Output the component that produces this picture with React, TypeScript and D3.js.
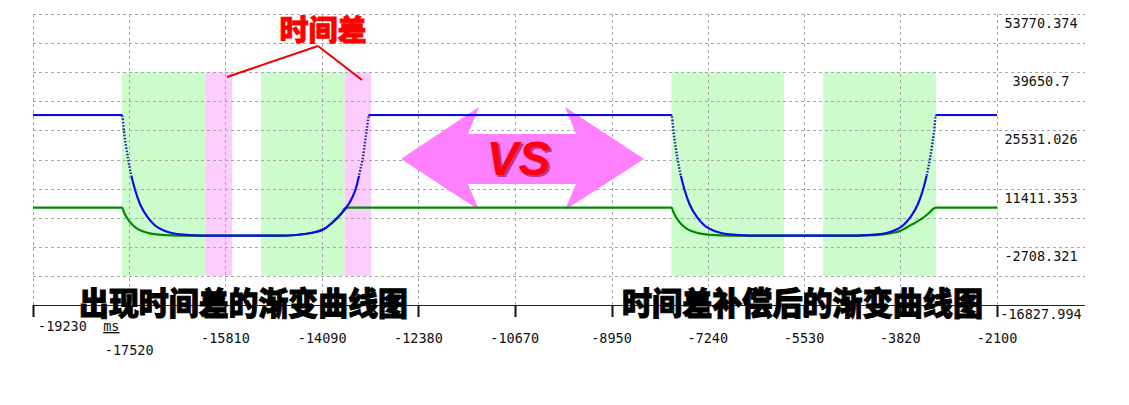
import React from 'react';
import * as d3 from 'd3';

const W = 1129;
const H = 405;

const xTicks = [-19230, -17520, -15810, -14090, -12380, -10670, -8950, -7240, -5530, -3820, -2100];
const xTickLabels = ['-19230', '-17520', '-15810', '-14090', '-12380', '-10670', '-8950', '-7240', '-5530', '-3820', '-2100'];
const yTicks = [53770.374, 39650.7, 25531.026, 11411.353, -2708.321, -16827.994];
const yTickLabels = ['53770.374', '39650.7', '25531.026', '11411.353', '-2708.321', '-16827.994'];
const xUnit = 'ms';

const greenBands = [[-17650, -16170], [-15180, -13690], [-7885, -5885], [-5190, -3185]];
const pinkBands = [[-16170, -15690], [-13690, -13225]];
const bandTop = 39650.7;
const bandBottom = -9768.3;

const blueT = [-19230, -17648, -17613, -17577, -17542, -17489, -17417, -17329, -17187, -17062, -16884, -16618, -16263, -15900,
  -14823, -14556, -14290, -14059, -13899, -13757, -13668, -13579, -13490, -13419, -13366, -13330, -13295, -13259,
  -7884, -7849, -7813, -7778, -7725, -7653, -7565, -7423, -7298, -7120, -6854, -6499,
  -4570, -4214, -3948, -3770, -3646, -3504, -3415, -3344, -3290, -3255, -3219, -3184, -2100];
const blueV = [29270, 29270, 25200, 21750, 18740, 14980, 11120, 7680, 4350, 2460, 1130, 300, 20, 0,
  0, 155, 641, 1611, 3309, 5250, 6706, 8646, 11558, 15682, 19078, 22717, 26114, 29270,
  29270, 25200, 21750, 18740, 14980, 11120, 7680, 4350, 2460, 1130, 300, 20,
  20, 300, 1130, 2460, 4350, 7680, 11120, 14980, 18740, 21750, 25200, 29270, 29270];

const greenT = [-19230, -17648, -17613, -17560, -17489, -17400, -17293, -17151, -16938, -16618, -16200,
  -14823, -14556, -14290, -14059, -13899, -13757, -13668,
  -7884, -7849, -7796, -7725, -7636, -7529, -7387, -7174, -6854, -6400,
  -4623, -4357, -4125, -3966, -3823, -3735, -3646, -3575, -3504, -3432, -3361, -3290, -3237, -3184, -2100];
const greenV = [6800, 6800, 5690, 4330, 2990, 1900, 1130, 540, 180, 25, 0,
  0, 155, 641, 1611, 3309, 5250, 6800,
  6800, 5690, 4330, 2990, 1900, 1130, 540, 180, 25, 0,
  0, 107, 325, 641, 1126, 1732, 2460, 2945, 3552, 4158, 4886, 5735, 6463, 6800, 6800];

const leftTitle = '出现时间差的渐变曲线图';
const rightTitle = '时间差补偿后的渐变曲线图';
const diffLabel = '时间差';
const vsLabel = 'VS';

// annotation anchors in data coordinates
const diffApex = [-14166, 46007];
const diffEnds = [[-15783, 38486], [-13384, 37758]];
const diffTextPos = [-14077, 41];
const arrowCenter = [-10532, 18593];

export default function App() {
  const x = d3.scaleLinear().domain([xTicks[0], xTicks[xTicks.length - 1]]).range([33, 997]);
  const y = d3.scaleLinear().domain([yTicks[yTicks.length - 1], yTicks[0]]).range([305, 14]);

  const yGrid: number[] = [];
  yTicks.forEach((v, i) => {
    yGrid.push(v);
    if (i < yTicks.length - 1) yGrid.push((v + yTicks[i + 1]) / 2);
  });

  const line = d3.line<number>()
    .x((_, i) => x(blueT[i]))
    .y((v) => y(v))
    .curve(d3.curveMonotoneX);
  const gline = d3.line<number>()
    .x((_, i) => x(greenT[i]))
    .y((v) => y(v))
    .curve(d3.curveMonotoneX);
  const blueD = line(blueV) || '';
  const greenD = gline(greenV) || '';

  const dotTop = y(blueV[0]) + 1.3;
  const dotBottom = y(14500);

  const ax = x(arrowCenter[0]);
  const ay = y(arrowCenter[1]);
  const arrowPts = [[-121.5, 0], [-43.5, -52], [-54.5, -25], [53.5, -25], [42.5, -52], [121.5, 0], [42.5, 51], [53.5, 25], [-54.5, 25], [-43.5, 51]]
    .map(([dx, dy]) => `${ax + dx},${ay + dy}`).join(' ');

  const mono = "'DejaVu Sans Mono', monospace";
  const cjk = "'Noto Sans CJK SC', 'Noto Sans CJK JP', sans-serif";

  return (
    <svg width={W} height={H} style={{ position: 'absolute', left: 0, top: 0, background: '#fff' }}>
      <defs>
        <clipPath id="solidClip">
          <rect x={0} y={0} width={W} height={dotTop} />
          <rect x={0} y={dotBottom} width={W} height={H - dotBottom} />
        </clipPath>
        <clipPath id="dotClip">
          <rect x={0} y={dotTop} width={W} height={dotBottom - dotTop} />
        </clipPath>
      </defs>
      <rect x={0} y={0} width={W} height={H} fill="#fff" />
      {greenBands.map(([a, b], i) => (
        <rect key={'g' + i} x={x(a)} y={y(bandTop)} width={x(b) - x(a)} height={y(bandBottom) - y(bandTop)} fill="#ccfccc" />
      ))}
      {pinkBands.map(([a, b], i) => (
        <rect key={'p' + i} x={x(a)} y={y(bandTop)} width={x(b) - x(a)} height={y(bandBottom) - y(bandTop)} fill="#fcccfc" />
      ))}
      {yGrid.map((v, i) => (
        <line key={'hy' + i} x1={33} x2={1085} y1={Math.round(y(v)) + 0.5} y2={Math.round(y(v)) + 0.5}
          stroke="#a8a8a8" strokeWidth={1} strokeDasharray="3 3" />
      ))}
      {xTicks.map((v, i) => (
        <line key={'vx' + i} x1={Math.round(x(v)) + 0.5} x2={Math.round(x(v)) + 0.5} y1={y(yTicks[0])} y2={y(yTicks[yTicks.length - 1])}
          stroke="#a8a8a8" strokeWidth={1} strokeDasharray="3 3" />
      ))}
      <polygon points={arrowPts} fill="#ff80ff" />
      <path d={greenD} fill="none" stroke="#008a00" strokeWidth={2.2} />
      <path d={blueD} fill="none" stroke="#0c0ce8" strokeWidth={2.2} clipPath="url(#solidClip)" />
      <path d={blueD} fill="none" stroke="#1a2aa8" strokeWidth={2.4} strokeDasharray="1.6 1.6" clipPath="url(#dotClip)" />
      <line x1={33} x2={1085} y1={305.5} y2={305.5} stroke="#222" strokeWidth={1} />
      {xTicks.map((v, i) => (
        <line key={'t' + i} x1={Math.round(x(v)) + 0.5} x2={Math.round(x(v)) + 0.5} y1={305} y2={317} stroke="#111" strokeWidth={2} />
      ))}
      {xTicks.map((v, i) => {
        const px = x(v);
        let tx = px, ty = 343, anchor: any = 'middle';
        if (i === 0) { tx = px + 5; ty = 331; anchor = 'start'; }
        if (i === 1) { ty = 355; }
        return (
          <text key={'xl' + i} x={tx} y={ty} textAnchor={anchor} fontFamily={mono} fontSize={13.5} fill="#111">{xTickLabels[i]}</text>
        );
      })}
      <text x={x(xTicks[1]) - 26} y={331} fontFamily={mono} fontSize={13.5} fill="#111" textDecoration="underline">{xUnit}</text>
      {yTicks.map((v, i) => (
        <text key={'yl' + i} x={1041} y={y(v) + 14} textAnchor="middle" fontFamily={mono} fontSize={13.5} fill="#111">{yTickLabels[i]}</text>
      ))}
      {diffEnds.map(([ex, ey], i) => (
        <line key={'dl' + i} x1={x(diffApex[0])} y1={y(diffApex[1])} x2={x(ex)} y2={y(ey)} stroke="#ee0000" strokeWidth={2} />
      ))}
      <text x={x(diffTextPos[0])} y={diffTextPos[1]} textAnchor="middle" fontFamily={cjk} fontWeight={900} fontSize={29}
        fill="#ff0000" stroke="#ff0000" strokeWidth={0.8}>{diffLabel}</text>
      <text x={ax - 2} y={ay + 18} textAnchor="middle" fontFamily="'Liberation Sans', Arial, sans-serif" fontWeight={700}
        fontStyle="italic" fontSize={48} fill="#a0205a" opacity={0.75}>{vsLabel}</text>
      <text x={ax - 4} y={ay + 16} textAnchor="middle" fontFamily="'Liberation Sans', Arial, sans-serif" fontWeight={700}
        fontStyle="italic" fontSize={48} fill="#ff0010">{vsLabel}</text>
      <text x={243.5} y={315} textAnchor="middle" fontFamily={cjk} fontWeight={900} fontSize={32}
        textLength={329} lengthAdjust="spacingAndGlyphs" fill="#000" stroke="#000" strokeWidth={1}>{leftTitle}</text>
      <text x={802.5} y={315} textAnchor="middle" fontFamily={cjk} fontWeight={900} fontSize={32}
        textLength={361} lengthAdjust="spacingAndGlyphs" fill="#000" stroke="#000" strokeWidth={1}>{rightTitle}</text>
    </svg>
  );
}
